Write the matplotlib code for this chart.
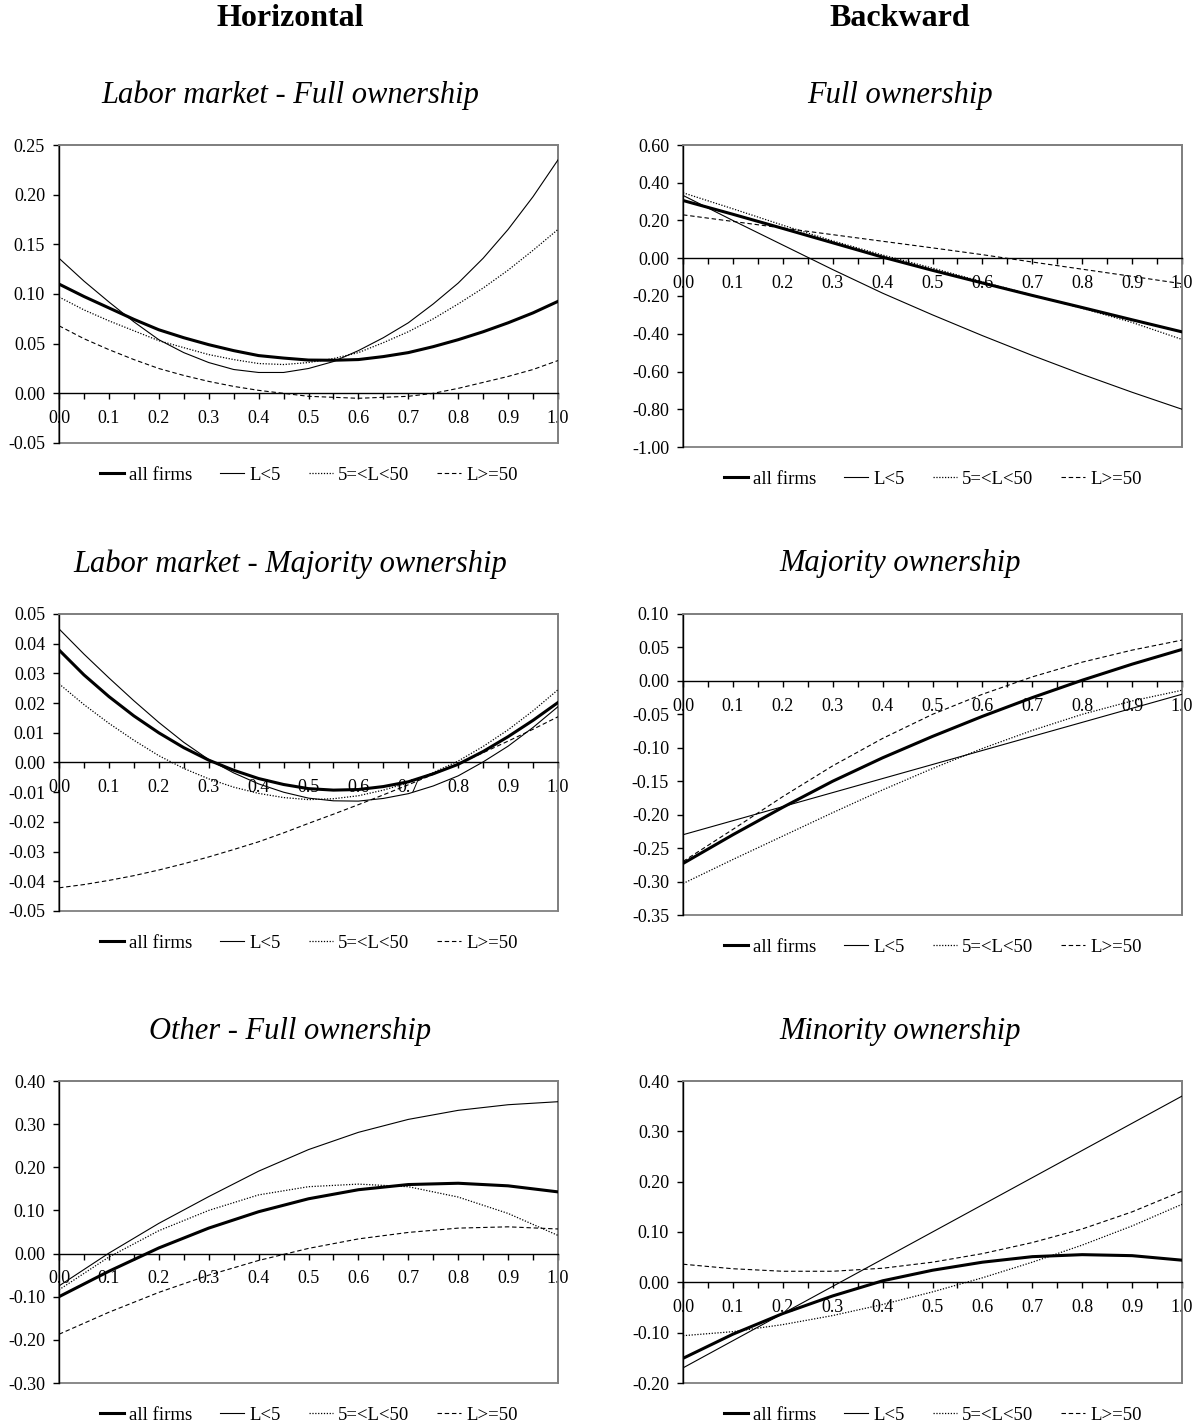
import matplotlib
matplotlib.use("Agg")
from matplotlib import pyplot as plt
from matplotlib.patches import Rectangle
from matplotlib.ticker import MultipleLocator, FormatStrFormatter, FuncFormatter

plt.rcParams['font.family'] = ['Liberation Serif', 'DejaVu Serif']
plt.rcParams['axes.unicode_minus'] = False

# share of ownership on the x axis
x_share = [0.0, 0.1, 0.2, 0.3, 0.4, 0.5, 0.6, 0.7, 0.8, 0.9, 1.0]
x_fine = [0.0, 0.05, 0.1, 0.15, 0.2, 0.25, 0.3, 0.35, 0.4, 0.45, 0.5,
          0.55, 0.6, 0.65, 0.7, 0.75, 0.8, 0.85, 0.9, 0.95, 1.0]
series_names = ['all firms', 'L<5', '5=<L<50', 'L>=50']

# Horizontal - Labor market - Full ownership (read every 0.05)
hl_full_all = [0.110, 0.0975, 0.086, 0.0745, 0.064, 0.056, 0.049, 0.043, 0.038, 0.0355, 0.0335,
               0.0333, 0.034, 0.037, 0.041, 0.047, 0.054, 0.062, 0.071, 0.081, 0.0926]
hl_full_l5 = [0.136, 0.113, 0.092, 0.072, 0.054, 0.041, 0.031, 0.024, 0.021, 0.021, 0.025,
              0.032, 0.043, 0.056, 0.071, 0.090, 0.111, 0.136, 0.165, 0.198, 0.235]
hl_full_mid = [0.097, 0.084, 0.073, 0.063, 0.053, 0.046, 0.039, 0.034, 0.030, 0.029, 0.031,
               0.035, 0.041, 0.051, 0.062, 0.075, 0.090, 0.106, 0.124, 0.144, 0.165]
hl_full_l50 = [0.068, 0.055, 0.044, 0.034, 0.025, 0.018, 0.012, 0.007, 0.003, 0.000, -0.003,
               -0.004, -0.005, -0.004, -0.003, 0.000, 0.005, 0.011, 0.017, 0.024, 0.033]

# Backward - Full ownership
bw_full_all = [0.306, 0.233, 0.158, 0.082, 0.006, -0.064, -0.131, -0.197, -0.261, -0.326, -0.390]
bw_full_l5 = [0.333, 0.200, 0.070, -0.060, -0.185, -0.300, -0.410, -0.515, -0.615, -0.710, -0.800]
bw_full_mid = [0.347, 0.262, 0.175, 0.092, 0.017, -0.052, -0.125, -0.195, -0.265, -0.340, -0.430]
bw_full_l50 = [0.230, 0.195, 0.160, 0.125, 0.090, 0.055, 0.019, -0.020, -0.058, -0.096, -0.135]

# Horizontal - Labor market - Majority ownership (read every 0.05)
hl_maj_all = [0.0379, 0.0295, 0.0222, 0.0157, 0.0100, 0.0050, 0.0008, -0.0026, -0.0054, -0.0074, -0.0088,
              -0.0093, -0.0091, -0.0081, -0.0065, -0.0038, -0.0006, 0.0037, 0.0087, 0.0142, 0.0202]
hl_maj_l5 = [0.0450, 0.0365, 0.0285, 0.0208, 0.0135, 0.0068, 0.0010, -0.0035, -0.0072, -0.0100, -0.0120,
             -0.0129, -0.0130, -0.0121, -0.0105, -0.0079, -0.0045, 0.0002, 0.0055, 0.0118, 0.0188]
hl_maj_mid = [0.0265, 0.0195, 0.0132, 0.0075, 0.0023, -0.0020, -0.0055, -0.0083, -0.0104, -0.0118, -0.0125,
              -0.0122, -0.0112, -0.0093, -0.0068, -0.0034, 0.0005, 0.0054, 0.0110, 0.0174, 0.0245]
hl_maj_l50 = [-0.0422, -0.0411, -0.0397, -0.0381, -0.0362, -0.0341, -0.0318, -0.0293, -0.0267, -0.0237, -0.0205,
              -0.0174, -0.0142, -0.0109, -0.0075, -0.0040, -0.0005, 0.0033, 0.0072, 0.0112, 0.0154]

# Backward - Majority ownership
bw_maj_all = [-0.273, -0.230, -0.189, -0.150, -0.115, -0.083, -0.053, -0.025, 0.001, 0.025, 0.047]
bw_maj_l5 = [-0.230, -0.209, -0.188, -0.167, -0.146, -0.125, -0.104, -0.083, -0.062, -0.041, -0.020]
bw_maj_mid = [-0.303, -0.267, -0.232, -0.197, -0.163, -0.131, -0.101, -0.074, -0.050, -0.030, -0.014]
bw_maj_l50 = [-0.270, -0.222, -0.173, -0.127, -0.086, -0.050, -0.020, 0.006, 0.028, 0.046, 0.061]

# Horizontal - Other - Full ownership
ot_full_all = [-0.100, -0.041, 0.013, 0.059, 0.097, 0.127, 0.148, 0.160, 0.163, 0.157, 0.143]
ot_full_l5 = [-0.075, 0.001, 0.070, 0.132, 0.191, 0.241, 0.281, 0.311, 0.332, 0.345, 0.352]
ot_full_mid = [-0.084, -0.008, 0.053, 0.100, 0.136, 0.155, 0.161, 0.155, 0.131, 0.093, 0.042]
ot_full_l50 = [-0.187, -0.136, -0.090, -0.050, -0.016, 0.012, 0.034, 0.049, 0.059, 0.062, 0.057]

# Backward - Minority ownership
bw_min_all = [-0.151, -0.103, -0.062, -0.027, 0.003, 0.024, 0.040, 0.051, 0.055, 0.053, 0.044]
bw_min_l5 = [-0.170, -0.116, -0.062, -0.008, 0.046, 0.100, 0.154, 0.208, 0.262, 0.316, 0.370]
bw_min_mid = [-0.106, -0.098, -0.084, -0.066, -0.044, -0.019, 0.009, 0.040, 0.074, 0.112, 0.155]
bw_min_l50 = [0.036, 0.027, 0.022, 0.022, 0.028, 0.040, 0.057, 0.079, 0.106, 0.140, 0.181]

W, H = 1203, 1425
fig = plt.figure(figsize=(W / 100, H / 100), dpi=100)

styles = [dict(lw=2.2, ls='-'),
          dict(lw=0.8, ls='-'),
          dict(lw=0.9, ls=(0, (1, 1.3))),
          dict(lw=0.8, ls=(0, (4, 2.5)))]

panels = [
    # title, x values, data, ylim, ystep, box (left, top, right, bottom) in pixels
    ('Labor market - Full ownership', x_fine, [hl_full_all, hl_full_l5, hl_full_mid, hl_full_l50],
     (-0.05, 0.25), 0.05, (59, 145, 558, 443)),
    ('Full ownership', x_share, [bw_full_all, bw_full_l5, bw_full_mid, bw_full_l50],
     (-1.0, 0.6), 0.2, (683, 145, 1182, 447)),
    ('Labor market - Majority ownership', x_fine, [hl_maj_all, hl_maj_l5, hl_maj_mid, hl_maj_l50],
     (-0.05, 0.05), 0.01, (59, 614, 558, 911)),
    ('Majority ownership', x_share, [bw_maj_all, bw_maj_l5, bw_maj_mid, bw_maj_l50],
     (-0.35, 0.10), 0.05, (683, 614, 1182, 915)),
    ('Other - Full ownership', x_share, [ot_full_all, ot_full_l5, ot_full_mid, ot_full_l50],
     (-0.30, 0.40), 0.10, (59, 1081, 558, 1383)),
    ('Minority ownership', x_share, [bw_min_all, bw_min_l5, bw_min_mid, bw_min_l50],
     (-0.20, 0.40), 0.10, (683, 1081, 1182, 1383)),
]


def fmt2(v, pos):
    if abs(v) < 1e-9:
        v = 0.0
    return '%.2f' % v


title_x = [290, 900]
for i, (title, xs, data, ylim, ystep, box) in enumerate(panels):
    l, t, r, b = box
    ax = fig.add_axes([l / W, 1 - b / H, (r - l) / W, (b - t) / H])
    handles = []
    for vals, name, st in zip(data, series_names, styles):
        h, = ax.plot(xs, vals, color='black', label=name, zorder=3, **st)
        handles.append(h)
    ax.set_xlim(0, 1)
    ax.set_ylim(*ylim)

    # grey plot-area border, black axes
    for side in ['top', 'right']:
        ax.spines[side].set_color('#808080')
        ax.spines[side].set_linewidth(1.3)
    ax.add_patch(Rectangle((0, 0), 1, 1, transform=ax.transAxes, fill=False,
                           edgecolor='#808080', lw=1.3, clip_on=False, zorder=1))
    ax.spines['left'].set_color('black')
    ax.spines['left'].set_linewidth(1.0)
    ax.spines['bottom'].set_position(('data', 0))
    ax.spines['bottom'].set_color('black')
    ax.spines['bottom'].set_linewidth(1.0)

    ax.xaxis.set_major_locator(MultipleLocator(0.1))
    ax.xaxis.set_minor_locator(MultipleLocator(0.05))
    ax.xaxis.set_major_formatter(FormatStrFormatter('%.1f'))
    ax.yaxis.set_major_locator(MultipleLocator(ystep))
    ax.yaxis.set_major_formatter(FuncFormatter(fmt2))
    ax.tick_params(axis='x', which='both', direction='out', length=4, width=1, pad=8, labelsize=13)
    ax.tick_params(axis='y', direction='out', length=4, width=1, pad=6, labelsize=13)

    col = i % 2
    yt = 1 - (t - 50) / H
    fig.text(title_x[col] / W, yt, title, ha='center', va='center',
             fontsize=22, style='italic')

    ax.legend(handles=handles, loc='center', bbox_to_anchor=(0.5, -32 / (b - t)),
              ncol=4, frameon=False, fontsize=13.5, handlelength=1.3,
              handletextpad=0.25, columnspacing=1.5)

fig.text(290 / W, 1 - 18 / H, 'Horizontal', ha='center', va='center',
         fontsize=23, fontweight='bold')
fig.text(900 / W, 1 - 18 / H, 'Backward', ha='center', va='center',
         fontsize=23, fontweight='bold')

fig.savefig('out.png', dpi=100)
